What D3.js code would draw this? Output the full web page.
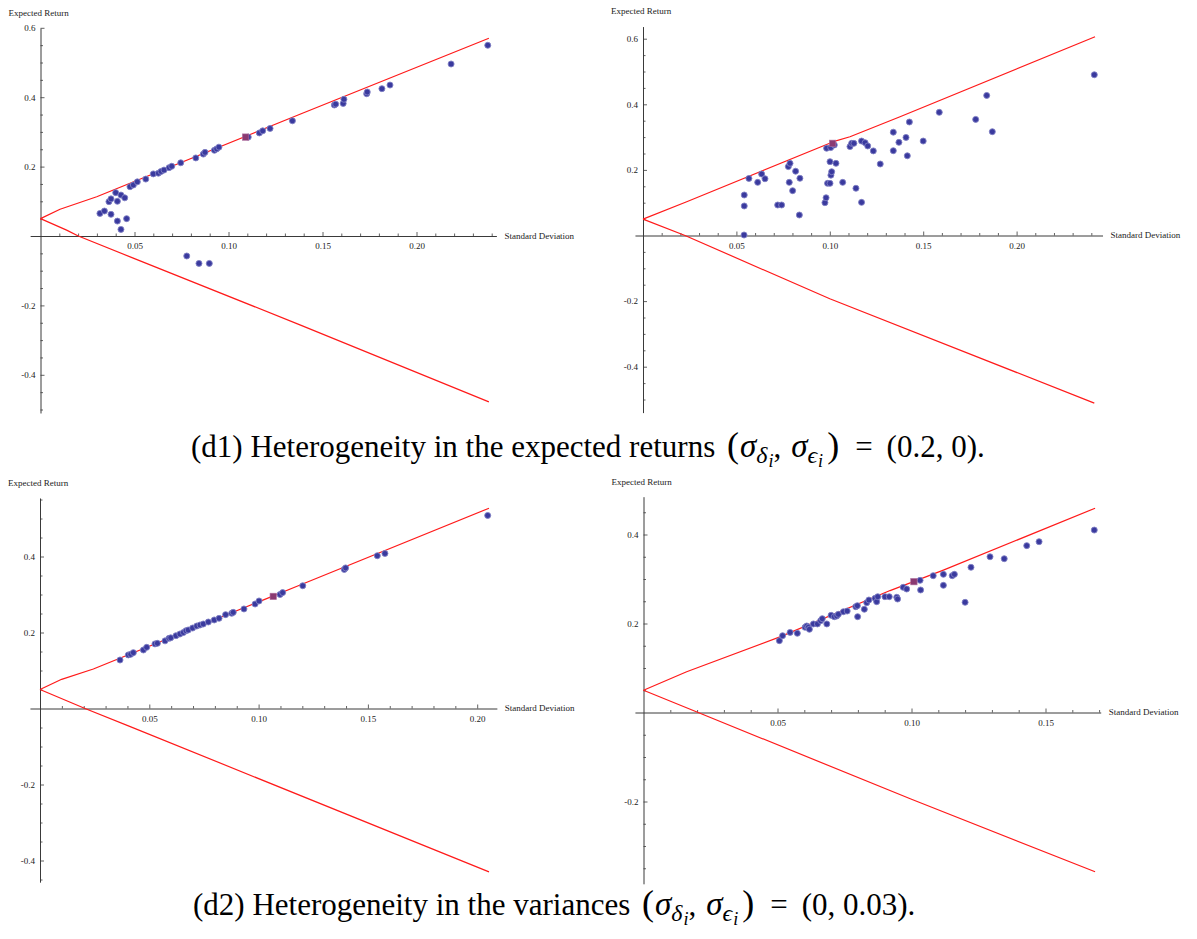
<!DOCTYPE html>
<html><head><meta charset="utf-8">
<script src="https://cdn.jsdelivr.net/npm/d3@7"></script>
<style>body{margin:0;background:#fff}svg{display:block}</style>
</head><body>
<svg id="chart" width="1197" height="939"></svg>
<script>
// ---------- DATA ----------
const axisTitleX = "Standard Deviation";
const axisTitleY = "Expected Return";

const xTicks_d1a = [0.05, 0.10, 0.15, 0.20];
const yTicks_d1a = [-0.4, -0.2, 0.2, 0.4, 0.6];
const xTicks_d1b = [0.05, 0.10, 0.15, 0.20];
const yTicks_d1b = [-0.4, -0.2, 0.2, 0.4, 0.6];
const xTicks_d2a = [0.05, 0.10, 0.15, 0.20];
const yTicks_d2a = [-0.4, -0.2, 0.2, 0.4];
const xTicks_d2b = [0.05, 0.10, 0.15];
const yTicks_d2b = [-0.2, 0.2, 0.4];

// panel d1 left
const upper_d1a = [[0,0.05],[0.0104,0.077],[0.0299,0.113],[0.138,0.351],[0.2385,0.570]];
const lower_d1a = [[0,0.05],[0.0139,0.017],[0.0201,0],[0.049,-0.063],[0.138,-0.256],[0.2385,-0.478]];
const assets_d1a = [[0.0316,0.065],[0.0340,0.072],[0.0375,0.0625],[0.0364,0.099],[0.0375,0.107],[0.040,0.125],[0.0409,0.100],[0.0409,0.043],[0.0428,0.118],[0.0448,0.110],[0.0428,0.019],[0.0458,0.050],[0.0476,0.142],[0.0494,0.147],[0.0515,0.156],[0.056,0.164],[0.060,0.179],[0.0627,0.181],[0.0641,0.186],[0.0657,0.190],[0.0684,0.197],[0.0698,0.201],[0.0746,0.211],[0.0826,0.225],[0.0866,0.236],[0.0875,0.241],[0.0925,0.247],[0.0937,0.251],[0.0949,0.256],[0.1105,0.285],[0.1164,0.297],[0.1182,0.303],[0.1221,0.310],[0.134,0.332],[0.0778,-0.0576],[0.0843,-0.079],[0.0898,-0.079],[0.1563,0.3775],[0.157,0.380],[0.161,0.382],[0.1614,0.394],[0.1735,0.410],[0.1738,0.415],[0.1816,0.4245],[0.1859,0.435],[0.2184,0.4957],[0.2379,0.5496]];
const tangency_d1a = [[0.1091,0.285]];

// panel d1 right
const upper_d1b = [[0,0.05],[0.0234,0.103],[0.1019,0.286],[0.1108,0.301],[0.1376,0.362],[0.242,0.606]];
const lower_d1b = [[0,0.05],[0.0225,0],[0.1,-0.193],[0.2416,-0.511]];
const assets_d1b = [[0.0541,0.0015],[0.0542,0.09],[0.0542,0.1235],[0.0567,0.174],[0.0614,0.162],[0.0635,0.1875],[0.0653,0.173],[0.0721,0.093],[0.0742,0.093],[0.0778,0.21],[0.0787,0.22],[0.0783,0.162],[0.0801,0.1366],[0.0817,0.196],[0.084,0.1744],[0.0837,0.0625],[0.0974,0.1],[0.098,0.115],[0.0983,0.266],[0.0988,0.159],[0.1001,0.159],[0.1005,0.268],[0.1001,0.225],[0.1006,0.184],[0.101,0.1945],[0.1024,0.276],[0.1033,0.22],[0.1069,0.162],[0.1108,0.271],[0.1117,0.281],[0.1129,0.281],[0.114,0.144],[0.117,0.101],[0.117,0.288],[0.1189,0.283],[0.1203,0.273],[0.1233,0.258],[0.127,0.218],[0.134,0.315],[0.134,0.2585],[0.137,0.284],[0.1408,0.299],[0.1415,0.243],[0.1426,0.346],[0.15,0.288],[0.1586,0.3755],[0.1781,0.354],[0.184,0.427],[0.187,0.3165],[0.2416,0.490]];
const tangency_d1b = [[0.1015,0.281]];

// panel d2 left
const upper_d2a = [[0,0.05],[0.0099,0.0768],[0.0244,0.104],[0.119,0.325],[0.2054,0.527]];
const lower_d2a = [[0,0.05],[0.0206,0],[0.041,-0.047],[0.2054,-0.43]];
const assets_d2a = [[0.0366,0.1276],[0.0404,0.141],[0.0415,0.1426],[0.0427,0.147],[0.0473,0.154],[0.0488,0.161],[0.0526,0.170],[0.0537,0.1715],[0.0572,0.178],[0.059,0.1846],[0.0598,0.186],[0.0622,0.1916],[0.064,0.196],[0.0656,0.2],[0.0668,0.2047],[0.0678,0.2066],[0.0698,0.2118],[0.0717,0.217],[0.0732,0.2197],[0.0747,0.2224],[0.077,0.2276],[0.0797,0.233],[0.0819,0.2373],[0.0849,0.247],[0.0877,0.2505],[0.0884,0.253],[0.0933,0.262],[0.0984,0.275],[0.1002,0.283],[0.1098,0.3],[0.111,0.305],[0.1202,0.323],[0.1392,0.366],[0.1398,0.37],[0.1543,0.402],[0.1578,0.408],[0.2048,0.508]];
const tangency_d2a = [[0.1067,0.295]];

// panel d2 right
const upper_d2b = [[0,0.05],[0.0161,0.0917],[0.0509,0.170],[0.092,0.274],[0.1119,0.32],[0.1685,0.459]];
const lower_d2b = [[0,0.05],[0.0204,0],[0.1,-0.195],[0.1685,-0.358]];
const assets_d2b = [[0.0507,0.1614],[0.0519,0.1726],[0.0547,0.18],[0.0574,0.178],[0.0603,0.1915],[0.0609,0.1944],[0.0615,0.1915],[0.0619,0.187],[0.0634,0.199],[0.0649,0.199],[0.0661,0.2063],[0.0667,0.2108],[0.0684,0.199],[0.07,0.2184],[0.0712,0.2153],[0.0721,0.2168],[0.0727,0.2206],[0.0746,0.2265],[0.076,0.228],[0.0792,0.2378],[0.0798,0.24],[0.0799,0.2153],[0.0824,0.232],[0.0833,0.2468],[0.0841,0.2528],[0.0864,0.2566],[0.087,0.249],[0.0874,0.2602],[0.0901,0.2602],[0.0917,0.2602],[0.0945,0.2589],[0.0948,0.255],[0.0969,0.2813],[0.0982,0.2775],[0.1032,0.297],[0.1034,0.2753],[0.1081,0.3074],[0.1119,0.3105],[0.1119,0.2858],[0.1152,0.3074],[0.116,0.3105],[0.12,0.2476],[0.1222,0.3263],[0.1293,0.350],[0.1346,0.3456],[0.143,0.375],[0.1476,0.3838],[0.1682,0.410]];
const tangency_d2b = [[0.1009,0.294]];

const caption1 = ["(d1) Heterogeneity in the expected returns ", "(0.2, 0)."];
const caption2 = ["(d2) Heterogeneity in the variances ", "(0, 0.03)."];

// ---------- LAYOUT ----------
const panels = [
  {x0:40.5, kx:1880, y0:236,   ky:347, xDom:[-0.0055,0.2425], yDom:[-0.51,0.599],
   xt:xTicks_d1a, yt:yTicks_d1a, up:upper_d1a, lo:lower_d1a, pts:assets_d1a, tan:tangency_d1a},
  {x0:643,  kx:1868, y0:235.5, ky:328, xDom:[-0.0043,0.246], yDom:[-0.54,0.637],
   xt:xTicks_d1b, yt:yTicks_d1b, up:upper_d1b, lo:lower_d1b, pts:assets_d1b, tan:tangency_d1b},
  {x0:40,   kx:2186, y0:708.5, ky:380, xDom:[-0.0046,0.209], yDom:[-0.457,0.554],
   xt:xTicks_d2a, yt:yTicks_d2a, up:upper_d2a, lo:lower_d2a, pts:assets_d2a, tan:tangency_d2a},
  {x0:643.5,kx:2680, y0:712.5, ky:445, xDom:[-0.0032,0.1706], yDom:[-0.385,0.485],
   xt:xTicks_d2b, yt:yTicks_d2b, up:upper_d2b, lo:lower_d2b, pts:assets_d2b, tan:tangency_d2b}
];

const svg = d3.select("#chart");
const FONT = "'Liberation Serif','Times New Roman',serif";
const fmtX = d3.format(".2f");
const fmtY = v => d3.format(".1f")(v).replace("\u2212","-");

panels.forEach(p => {
  const x = d3.scaleLinear().domain(p.xDom).range([p.x0 + p.kx*p.xDom[0], p.x0 + p.kx*p.xDom[1]]);
  const y = d3.scaleLinear().domain(p.yDom).range([p.y0 - p.ky*p.yDom[0], p.y0 - p.ky*p.yDom[1]]);
  const g = svg.append("g");

  const xMinor = d3.range(0.01, p.xDom[1]+1e-9, 0.01).filter(v => !p.xt.some(t => Math.abs(t-v)<1e-6));
  const yMinor = d3.range(Math.ceil(p.yDom[0]/0.05)*0.05, p.yDom[1]+1e-9, 0.05)
      .filter(v => Math.abs(v)>1e-6 && !p.yt.some(t => Math.abs(t-v)<1e-6));

  // x axis
  const gx = g.append("g").attr("transform", `translate(0,${y(0)})`);
  gx.call(d3.axisBottom(x).tickValues(p.xt).tickFormat(fmtX).tickSize(-4).tickSizeOuter(0).tickPadding(7));
  gx.append("g").call(d3.axisBottom(x).tickValues(xMinor).tickFormat("").tickSize(-2.5).tickSizeOuter(0))
    .select(".domain").remove();
  // y axis
  const gy = g.append("g").attr("transform", `translate(${x(0)},0)`);
  gy.call(d3.axisLeft(y).tickValues(p.yt).tickFormat(fmtY).tickSize(-4).tickSizeOuter(0).tickPadding(5));
  gy.append("g").call(d3.axisLeft(y).tickValues(yMinor).tickFormat("").tickSize(-2.5).tickSizeOuter(0))
    .select(".domain").remove();

  g.selectAll(".domain").attr("stroke","#3a3a3a").attr("stroke-width",1);
  g.selectAll(".tick line").attr("stroke","#3a3a3a").attr("stroke-width",0.8);
  g.selectAll(".tick text").attr("font-family",FONT).attr("font-size",9).attr("fill","#222");
  gx.attr("font-family",FONT); gy.attr("font-family",FONT);

  // axis titles
  g.append("text").attr("x", x(p.xDom[1]) + 8).attr("y", y(0)).attr("dy","0.32em")
    .attr("font-family",FONT).attr("font-size",9).attr("fill","#222").text(axisTitleX);
  g.append("text").attr("x", x(0) - 32).attr("y", y(p.yDom[1]) - 15).attr("dy","0.32em")
    .attr("font-family",FONT).attr("font-size",9).attr("fill","#222").text(axisTitleY);

  // frontier lines
  const line = d3.line().x(d => x(d[0])).y(d => y(d[1]));
  [p.up, p.lo].forEach(arr => {
    g.append("path").attr("d", line(arr)).attr("fill","none")
      .attr("stroke","#ff1a1a").attr("stroke-width",1.2).attr("stroke-linejoin","round");
  });

  // asset points
  g.append("g").selectAll("circle").data(p.pts).join("circle")
    .attr("cx", d => x(d[0])).attr("cy", d => y(d[1])).attr("r", 3)
    .attr("fill","#3a3a9e").attr("stroke","#8080c4").attr("stroke-width",0.9);
  g.append("g").selectAll("rect").data(p.tan).join("rect")
    .attr("x", d => x(d[0]) - 3.2).attr("y", d => y(d[1]) - 3.2).attr("width",6.4).attr("height",6.4)
    .attr("fill","#8a3a72").attr("stroke","#b070a0").attr("stroke-width",0.6);
});

// captions
function caption(x0, by, parts) {
  const t = svg.append("text").attr("x", x0).attr("y", by)
    .attr("font-family",FONT).attr("font-size",31).attr("fill","#000");
  t.append("tspan").text(parts[0]);
  t.append("tspan").attr("font-size",36).attr("dx",4).text("(");
  t.append("tspan").attr("font-style","italic").attr("font-size",33).attr("dx",1).text("σ");
  t.append("tspan").attr("font-style","italic").attr("font-size",24).attr("dy",6).text("δ");
  t.append("tspan").attr("font-style","italic").attr("font-size",18).attr("dy",4).attr("dx",1).text("i");
  t.append("tspan").attr("dy",-10).text(",");
  t.append("tspan").attr("font-style","italic").attr("font-size",33).attr("dx",10).text("σ");
  t.append("tspan").attr("font-style","italic").attr("font-size",24).attr("dy",6).text("ϵ");
  t.append("tspan").attr("font-style","italic").attr("font-size",18).attr("dy",4).attr("dx",1).text("i");
  t.append("tspan").attr("dy",-10).attr("dx",4).attr("font-size",36).text(")");
  t.append("tspan").attr("dx",16).text("=");
  t.append("tspan").attr("dx",14).text(parts[1]);
}
caption(191, 457, caption1);
caption(193, 915, caption2);
</script>
</body></html>
